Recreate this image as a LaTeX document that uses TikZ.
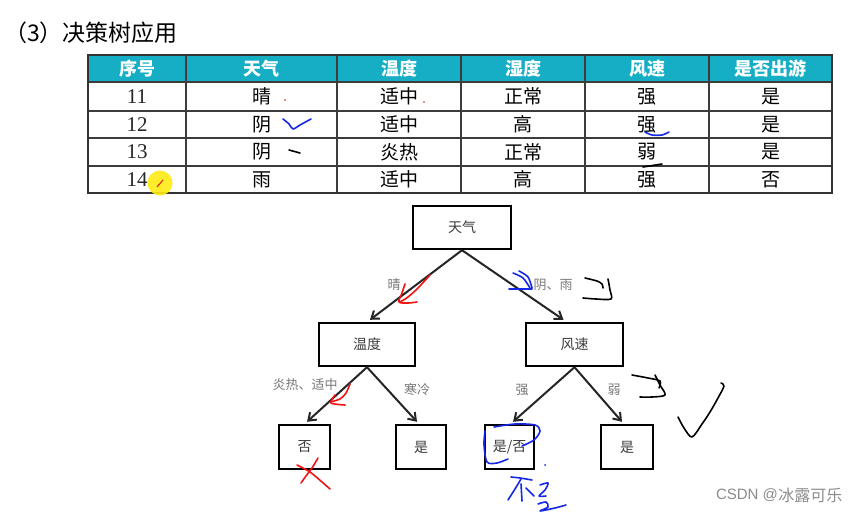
\documentclass[tikz,border=0pt]{standalone}
\usepackage{fontspec}
\setmainfont{Liberation Serif}
\newfontfamily\cjk{Noto Sans CJK SC}
\usetikzlibrary{arrows.meta,calc}
\definecolor{hdr}{RGB}{22,174,196}
\definecolor{grid}{RGB}{60,60,60}
\definecolor{boxtxt}{RGB}{60,60,60}
\definecolor{lbl}{RGB}{120,120,120}
\definecolor{inkblue}{RGB}{20,40,230}
\definecolor{inkred}{RGB}{240,20,20}
\definecolor{hilite}{RGB}{255,236,20}
\tikzset{
  treebox/.style={draw=black, line width=2.4pt, fill=white, inner sep=0pt,
    font=\cjk\fontsize{14}{14}\selectfont, text=boxtxt},
  inner/.style={treebox, minimum width=98pt, minimum height=43pt},
  leaf/.style={treebox, minimum width=51pt, minimum height=44pt},
  edge/.style={draw=black!85, line width=2pt, -{Straight Barb[length=7pt,width=10pt,line width=2pt]}},
  elabel/.style={font=\cjk\fontsize{13}{13}\selectfont, text=lbl, inner sep=0pt},
  hcell/.style={font=\cjk\bfseries\fontsize{18}{18}\selectfont, text=white, inner sep=0pt},
  bcell/.style={font=\cjk\fontsize{19}{19}\selectfont, text=black, inner sep=0pt},
  ncell/.style={font=\fontsize{21}{21}\selectfont, text=black!85, inner sep=0pt},
  ink/.style={line width=1.6pt, line cap=round, line join=round},
}
\begin{document}
\begin{tikzpicture}[x=1pt,y=-1pt]
\useasboundingbox (0,0) rectangle (866,513);
\fill[white] (0,0) rectangle (866,513);

% title
\node[anchor=west, inner sep=0pt, font=\cjk\fontsize{23}{23}\selectfont] (title) at (4,33) {（3）决策树应用};

% table
\fill[hdr] (88,55) rectangle (832,82);
\foreach \y in {82,111,138,166} \draw[grid, line width=1.3pt] (88,\y) -- (832,\y);
\foreach \x in {186,337,461,585,709} \draw[grid, line width=1.3pt] (\x,55) -- (\x,193);
\draw[black!80, line width=1.6pt] (88,55) rectangle (832,193);

\foreach \t [count=\i] in {序号,天气,温度,湿度,风速,是否出游} {
  \pgfmathsetmacro{\cx}{{137,261.5,399,523,647,770.5}[\i-1]}
  \node[hcell] (h\i) at (\cx,68.5) {\t};
}
\foreach \r/\yy/\n/\a/\b/\c/\d/\e in {1/96.5/11/晴/适中/正常/强/是, 2/124.5/12/阴/适中/高/强/是, 3/152/13/阴/炎热/正常/弱/是, 4/179.5/14/雨/适中/高/强/否} {
  \node[ncell] (n\r) at (137,\yy) {\n};
  \node[bcell] (a\r) at (261.5,\yy) {\a};
  \node[bcell] (b\r) at (399,\yy) {\b};
  \node[bcell] (c\r) at (523,\yy) {\c};
  \node[bcell] (d\r) at (647,\yy) {\d};
  \node[bcell] (e\r) at (770.5,\yy) {\e};
}

% yellow pointer highlight
\fill[hilite, opacity=0.9] (160,183) circle (12.5);
\draw[inkred, line width=1pt] (157,187) -- (163,180);

% table ink
\fill[inkred] (285,100) circle (0.9);
\fill[inkred] (424,102) circle (0.9);
\draw[inkblue, ink] plot[smooth] coordinates {(283,119) (289,124) (293,129) (300,125) (311,119)};
\draw[inkblue, ink] plot[smooth] coordinates {(645,132) (652,135) (662,135) (669,132)};
\draw[black, ink] (289,150) -- (300,153);
\draw[black, ink] (643,167) -- (662,164);

% tree
\node[inner] (tq) at (462,227.5) {天气};
\node[inner, minimum width=96pt] (wd) at (367,344.5) {温度};
\node[inner, minimum width=97pt] (fs) at (574.5,344.5) {风速};
\node[leaf] (fou) at (304.5,447) {否};
\node[leaf, minimum width=50pt] (shi1) at (421,447) {是};
\node[leaf, minimum width=49pt] (sf) at (509.5,447) {是/否};
\node[leaf, minimum width=52pt] (shi2) at (627,447) {是};

\draw[edge] (tq.south) -- ($(wd.north)+(3,-2)$);
\draw[edge] (tq.south) -- ($(fs.north)+(-11,-2)$);
\draw[edge] (wd.south) -- ($(fou.north)+(2.5,-2)$);
\draw[edge] (wd.south) -- ($(shi1.north)+(-4,-2)$);
\draw[edge] (fs.south) -- ($(sf.north)+(3.5,-2)$);
\draw[edge] (fs.south) -- ($(shi2.north)+(-5,-2)$);

\node[elabel] (l1) at (394,285) {晴};
\node[elabel] (l2) at (553,285) {阴、雨};
\node[elabel] (l3) at (305,385) {炎热、适中};
\node[elabel] (l4) at (417,390) {寒冷};
\node[elabel] (l5) at (522,390) {强};
\node[elabel] (l6) at (614,390) {弱};

% tree ink
\draw[inkred, ink] plot[smooth] coordinates {(430,275) (418,288) (408,297) (400,302)};
\draw[inkred, ink] plot[smooth] coordinates {(405,284) (402,293) (399,302) (408,303) (417,302)};
\draw[inkblue, ink] plot[smooth] coordinates {(513,273) (523,278) (530,288)};
\draw[inkblue, ink] plot[smooth] coordinates {(519,271) (528,277) (532,288)};
\draw[inkblue, ink] (509,289) -- (532,289);
\draw[black, ink] plot[smooth] coordinates {(585,278) (597,281) (602,284) (603,288)};
\draw[black, ink] plot[smooth] coordinates {(608,279) (610,290) (611,299) (596,299) (583,298)};

\draw[inkred, ink] plot[smooth] coordinates {(350,384) (346,393) (340,399) (330,402)};
\draw[inkred, ink] plot[smooth] coordinates {(335,395) (331,403) (345,405)};
\draw[inkred, ink] plot[smooth] coordinates {(297,465) (310,472) (322,482) (330,489)};
\draw[inkred, ink] plot[smooth] coordinates {(318,458) (312,468) (306,476) (301,483)};

\draw[inkblue, ink] plot[smooth] coordinates {(494,427) (515,424) (535,425) (540,431) (534,440) (522,446)};
\draw[inkblue, ink] plot[smooth] coordinates {(485,431) (484,445) (487,462) (497,463) (508,459)};
\fill[inkblue] (545,465) circle (1);
% "不是" handwriting
\draw[inkblue, ink] plot[smooth] coordinates {(511,477) (520,478) (532,480)};
\draw[inkblue, ink] plot[smooth] coordinates {(521,479) (515,489) (508,500)};
\draw[inkblue, ink] (521,484) -- (522,501);
\draw[inkblue, ink] (526,488) -- (534,496);
\draw[inkblue, ink] plot[smooth] coordinates {(540,485) (548,483) (545,490) (539,496) (546,496)};
\draw[inkblue, ink] plot[smooth] coordinates {(538,504) (546,502) (548,507) (540,511) (555,508) (566,505)};

\draw[black, ink] plot[smooth] coordinates {(632,375) (648,378) (660,381) (659,388)};
\draw[black, ink] plot[smooth] coordinates {(655,375) (660,385) (665,395) (652,397) (640,397)};
\draw[black, ink] plot[smooth] coordinates {(678,417) (684,428) (692,437) (702,424) (710,412) (718,398) (724,386) (721,383)};

% watermark
\node[font=\fontspec{Liberation Sans}\fontsize{15}{15}\selectfont, text=black!45, inner sep=0pt] (wm1) at (747,495) {CSDN @};
\node[anchor=west, font=\cjk\fontsize{16}{16}\selectfont, text=black!45, inner sep=0pt] (wm2) at (wm1.east) {冰露可乐};
\end{tikzpicture}
\end{document}
